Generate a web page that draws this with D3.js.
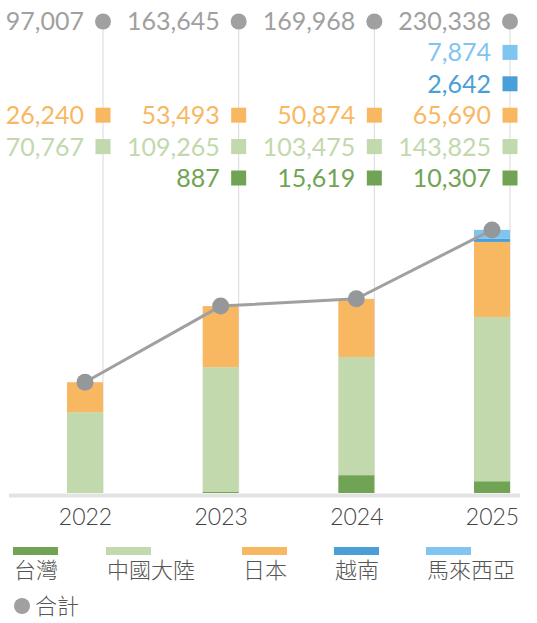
<!DOCTYPE html>
<html>
<head>
<meta charset="utf-8">
<script src="https://cdn.jsdelivr.net/npm/d3@7"></script>
<style>
  body { margin: 0; background: #fff; }
  svg { display: block; }
  .num { font-family: Lato, "Open Sans", sans-serif; font-size: 25px; font-weight: 400; }
  .leg { font-family: "Noto Sans CJK TC", "Noto Sans", sans-serif; font-size: 22px; font-weight: 300; fill: #555; }
</style>
</head>
<body>
<div id="chart"></div>
<script>
const years = ['2022', '2023', '2024', '2025'];
const taiwan = [null, 887, 15619, 10307];
const china = [70767, 109265, 103475, 143825];
const japan = [26240, 53493, 50874, 65690];
const vietnam = [null, null, null, 2642];
const malaysia = [null, null, null, 7874];
const totals = [97007, 163645, 169968, 230338];

const seriesNames = ['台灣', '中國大陸', '日本', '越南', '馬來西亞'];
const seriesValues = [taiwan, china, japan, vietnam, malaysia];
const colors = ['#70a454', '#c2d8ad', '#f8b862', '#4a9fd8', '#7fc5ef'];
const totalName = '合計';

const width = 537;
const height = 623;

const rows = years.map((y, i) => {
  const r = { year: y, total: totals[i] };
  seriesNames.forEach((s, j) => { r[s] = seriesValues[j][i] || 0; });
  return r;
});

const svg = d3.select('#chart')
  .append('svg')
  .attr('width', width)
  .attr('height', height);

const x = d3.scalePoint().domain(years).range([85, 492]);
const barW = 36;
const y = d3.scaleLinear().domain([0, 232000]).range([493, 228]);

// label rows at the top
const rowY = d3.scalePoint()
  .domain([totalName, '馬來西亞', '越南', '日本', '中國大陸', '台灣'])
  .range([30, 187]);

// vertical guide lines at right edge of the bars
svg.append('g')
  .selectAll('line')
  .data(years)
  .join('line')
  .attr('x1', d => x(d) + barW / 2)
  .attr('x2', d => x(d) + barW / 2)
  .attr('y1', rowY(totalName) - 9)
  .attr('y2', 493)
  .attr('stroke', '#d9d9d9')
  .attr('stroke-width', 1);

// stacked bars
const stack = d3.stack().keys(seriesNames)(rows);
svg.append('g')
  .selectAll('g')
  .data(stack)
  .join('g')
  .attr('fill', (d, i) => colors[i])
  .selectAll('rect')
  .data(d => d)
  .join('rect')
  .attr('x', d => x(d.data.year) - barW / 2)
  .attr('width', barW)
  .attr('y', d => y(d[1]))
  .attr('height', d => y(d[0]) - y(d[1]));

// baseline
svg.append('line')
  .attr('x1', 9).attr('x2', 520)
  .attr('y1', 495.5).attr('y2', 495.5)
  .attr('stroke', '#e3e3e3')
  .attr('stroke-width', 4);

// x axis labels
const xAxis = d3.axisBottom(x).tickSize(0).tickPadding(0);
const ax = svg.append('g')
  .attr('transform', 'translate(0, 525)')
  .call(xAxis);
ax.select('.domain').remove();
ax.selectAll('text')
  .attr('dy', 0)
  .attr('fill', '#444')
  .style('font-family', 'Lato, "Open Sans", sans-serif')
  .style('font-weight', 300)
  .style('font-size', '23px');

// total line
const line = d3.line()
  .x((d, i) => x(years[i]))
  .y(d => y(d));
svg.append('path')
  .datum(totals)
  .attr('d', line)
  .attr('fill', 'none')
  .attr('stroke', '#a0a0a0')
  .attr('stroke-width', 3);

svg.append('g')
  .selectAll('circle')
  .data(totals)
  .join('circle')
  .attr('cx', (d, i) => x(years[i]))
  .attr('cy', d => y(d))
  .attr('r', 8.5)
  .attr('fill', '#94989b');

// value labels
const fmt = d3.format(',');
const labels = [];
years.forEach((yr, i) => {
  labels.push({ year: yr, key: totalName, value: totals[i], color: '#a0a0a0', shape: 'circle' });
  seriesNames.forEach((s, j) => {
    const v = seriesValues[j][i];
    if (v != null) labels.push({ year: yr, key: s, value: v, color: colors[j], shape: 'square' });
  });
});

const lab = svg.append('g')
  .selectAll('g')
  .data(labels)
  .join('g')
  .attr('transform', d => `translate(${x(d.year) + barW / 2}, ${rowY(d.key)})`);

lab.append('text')
  .attr('class', 'num')
  .attr('x', -19)
  .attr('text-anchor', 'end')
  .attr('fill', d => d.color)
  .text(d => fmt(d.value));

lab.filter(d => d.shape === 'square')
  .append('rect')
  .attr('x', -7.5)
  .attr('y', -16.5)
  .attr('width', 15)
  .attr('height', 15)
  .attr('fill', d => d.color);

lab.filter(d => d.shape === 'circle')
  .append('circle')
  .attr('cx', 0)
  .attr('cy', -8.5)
  .attr('r', 8)
  .attr('fill', '#a0a0a0');

// legend
const legX = [13, 106, 242, 334, 426];
const leg = svg.append('g')
  .selectAll('g')
  .data(seriesNames)
  .join('g')
  .attr('transform', (d, i) => `translate(${legX[i]}, 547)`);

leg.append('rect')
  .attr('width', 45)
  .attr('height', 8)
  .attr('fill', (d, i) => colors[i]);

leg.append('text')
  .attr('class', 'leg')
  .attr('x', 1)
  .attr('y', 31)
  .text(d => d);

const tot = svg.append('g').attr('transform', 'translate(22, 606)');
tot.append('circle').attr('r', 8).attr('fill', '#a0a0a0');
tot.append('text')
  .attr('class', 'leg')
  .attr('x', 13)
  .attr('y', 8)
  .text(totalName);
</script>
</body>
</html>
